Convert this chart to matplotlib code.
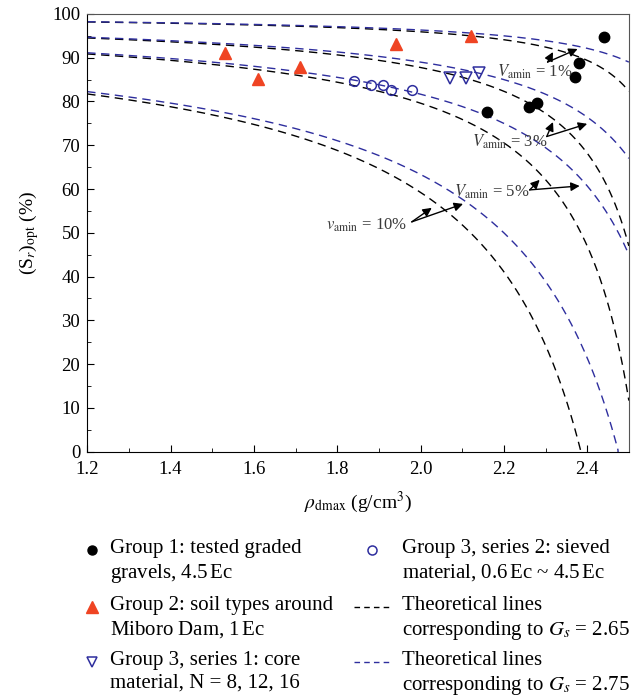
import numpy as np
import matplotlib
matplotlib.use("Agg")
import matplotlib.pyplot as plt
from matplotlib.lines import Line2D
from matplotlib.ticker import MultipleLocator

plt.rcParams['font.family'] = ['Liberation Serif', 'DejaVu Serif']
plt.rcParams['mathtext.fontset'] = 'stix'

# measured points
g1_x = [2.44, 2.38, 2.37, 2.16, 2.26, 2.28]
g1_y = [94.7, 88.8, 85.6, 77.6, 78.8, 79.7]
g2_x = [1.53, 1.61, 1.71, 1.94, 2.12]
g2_y = [91.1, 85.2, 87.9, 93.2, 95.0]
g3s1_x = [2.07, 2.11, 2.14]
g3s1_y = [85.4, 85.4, 86.5]
g3s2_x = [1.84, 1.88, 1.91, 1.93, 1.98]
g3s2_y = [84.7, 83.8, 83.8, 82.6, 82.6]

# theoretical lines: parameters
gs_values = [2.65, 2.75]
gs_colors = ['black', '#2e2e9e']
va_values = [0.01, 0.03, 0.05, 0.10]

labels = ['Group 1: tested graded\ngravels, 4.5$\\,$Ec',
          'Group 2: soil types around\nMiboro Dam, 1$\\,$Ec',
          'Group 3, series 1: core\nmaterial, N = 8, 12, 16',
          'Group 3, series 2: sieved\nmaterial, 0.6$\\,$Ec ~ 4.5$\\,$Ec',
          'Theoretical lines\ncorresponding to $G_s$ = 2.65',
          'Theoretical lines\ncorresponding to $G_s$ = 2.75']

W, H = 632, 697
fig = plt.figure(figsize=(W / 100, H / 100), dpi=100)
ax = fig.add_axes([0.138, 0.352, 0.857, 0.628])

rho = np.linspace(1.2, 2.5, 600)
for gs, col in zip(gs_values, gs_colors):
    n = 1 - rho / gs
    for va in va_values:
        sr = (1 - va / n) * 100
        sr[n <= va] = -5
        ax.plot(rho, sr, color=col, lw=1.0, dashes=(6, 4))

ax.plot(g1_x, g1_y, 'o', color='black', ms=7.5, ls='none')
ax.plot(g2_x, g2_y, '^', color='#ef4423', ms=9, ls='none')
ax.plot(g3s1_x, g3s1_y, 'v', mfc='none', mec='#2e2e9e', mew=1.1, ms=8, ls='none')
ax.plot(g3s2_x, g3s2_y, 'o', mfc='none', mec='#2e2e9e', mew=1.1, ms=7, ls='none')

# annotations
txt_col = '#3a3a3a'
notes = [('$V_{\\mathrm{amin}}$ = 1%', (2.275, 86.8), (2.305, 89.0), [(2.318, 91.3), (2.377, 92.0)]),
         ('$V_{\\mathrm{amin}}$ = 3%', (2.215, 70.8), (2.303, 72.0), [(2.318, 75.3), (2.40, 74.9)]),
         ('$V_{\\mathrm{amin}}$ = 5%', (2.17, 59.4), (2.262, 59.8), [(2.286, 62.1), (2.382, 60.7)]),
         ('$v_{\\mathrm{amin}}$ = 10%', (1.87, 51.8), (1.979, 52.5), [(2.027, 55.7), (2.102, 56.6)])]
for text, tpos, tail, heads in notes:
    ax.text(tpos[0], tpos[1], text, ha='center', va='center', fontsize=12, color=txt_col)
    for h in heads:
        ax.annotate('', xy=h, xytext=tail,
                    arrowprops=dict(arrowstyle='-|>', color='black', lw=1.0,
                                    mutation_scale=13, shrinkA=0, shrinkB=0))

ax.set_xlim(1.2, 2.5)
ax.set_ylim(0, 100)
ax.xaxis.set_minor_locator(MultipleLocator(0.1))
ax.yaxis.set_major_locator(MultipleLocator(10))
ax.yaxis.set_minor_locator(MultipleLocator(5))
ax.set_xticks(np.arange(1.2, 2.41, 0.2))
ax.set_xticklabels(['1.2', '1.4', '1.6', '1.8', '2.0', '2.2', '2.4'])
ax.tick_params(which='both', direction='in', labelsize=13.5)
ax.tick_params(axis='x', pad=7)
ax.tick_params(axis='y', pad=5)
ax.tick_params(which='major', length=5)
ax.tick_params(which='minor', length=3)
ax.set_xlabel('$\\rho_{\\mathrm{dmax}}$ (g/cm$^3$)', fontsize=14, labelpad=8)
ax.set_ylabel('(S$_r$)$_{\\mathrm{opt}}$ (%)', fontsize=14, labelpad=8)
for s in ['top', 'right']:
    ax.spines[s].set_color('#555555')

# legend drawn by hand so the markers sit on the first text line
handles = [dict(marker='o', color='black', ls='none', ms=6.5),
           dict(marker='^', color='#ef4423', ls='none', ms=8),
           dict(marker='v', mfc='none', mec='#2e2e9e', mew=1.1, ls='none', ms=7),
           dict(marker='o', mfc='none', mec='#2e2e9e', mew=1.1, ls='none', ms=6.5),
           dict(color='black', lw=1.0, dashes=(4, 3)),
           dict(color='#2e2e9e', lw=1.0, dashes=(4, 3))]
col_marker_x = [92, 372]
col_text_x = [110, 402]
row_y = [550, 607, 662]
for i, (lab, hd) in enumerate(zip(labels, handles)):
    c, r = divmod(i, 3)
    yc = row_y[r]
    if 'marker' in hd:
        fig.add_artist(Line2D([col_marker_x[c] / W], [1 - yc / H], transform=fig.transFigure, **hd))
    else:
        fig.add_artist(Line2D([354 / W, 390 / W], [1 - yc / H] * 2, transform=fig.transFigure, **hd))
    fig.text(col_text_x[c] / W, 1 - (yc - 11) / H, lab, ha='left', va='top',
             fontsize=15, linespacing=1.25)

fig.savefig('out.png', dpi=100)
